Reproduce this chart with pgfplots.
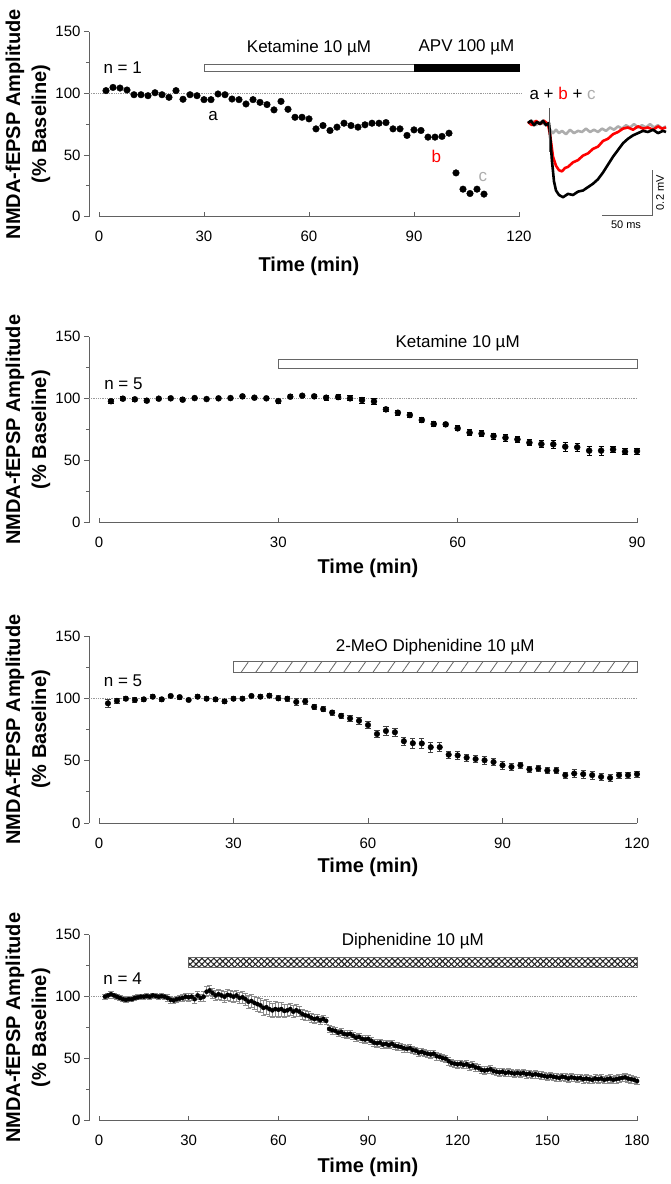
\documentclass[border=0pt]{standalone}
\usepackage{fontspec}
\setmainfont{Liberation Sans}
\usepackage{pgfplots}
\pgfplotsset{compat=1.18}
\usetikzlibrary{patterns.meta}

\newcommand\tks{\fontsize{15}{18}\selectfont}
\newcommand\lab{\fontsize{20}{26}\selectfont\bfseries}
\newcommand\ann{\fontsize{17}{20}\selectfont}
\newcommand\sml{\fontsize{11}{13}\selectfont}

\definecolor{axgray}{gray}{0.38}
\definecolor{trgray}{gray}{0.68}

\pgfplotsset{
  panel/.style={
    scale only axis, anchor=south west, clip=false,
    axis lines*=left,
    ymin=0, ymax=150, ytick={0,50,100,150}, minor y tick num=1,
    y axis line style={axgray, line width=0.9pt},
    x axis line style={draw=none},
    xtick align=inside, ytick align=outside,
    major tick length=5pt, minor tick length=3pt,
    tick style={axgray, line width=0.9pt},
    tick label style={font=\tks},
    xticklabel style={yshift=-11pt},
    /pgf/number format/assume math mode=true,
  },
  base/.style={black!40, densely dotted, line width=0.8pt},
  ebar/.style={only marks, mark=*, black,
    error bars/.cd, y dir=both, y explicit,
    error bar style={line width=0.7pt, #1},
    error mark options={rotate=90, mark size=2.6pt, line width=0.7pt, #1}},
}

\begin{document}
\begin{tikzpicture}
\useasboundingbox (0,0) rectangle (670pt,1184pt);

% ---------------- panel 1 : ketamine + APV (n = 1)
\begin{axis}[panel, at={(89pt,967.3pt)}, width=430pt, height=185pt,
    xmin=-2.857, xmax=120, xtick={0,30,60,90,120}]
\draw[axgray, line width=0.9pt] (axis cs:0,0) -- (axis cs:120,0);
\addplot[base] coordinates {(-2.857,100) (121,100)};
\draw[fill=white, draw=black!60, line width=1pt] (axis cs:30,117.5) rectangle (axis cs:90,123.5);
\draw[fill=black, draw=black, line width=1pt] (axis cs:90,117.5) rectangle (axis cs:120,123.5);
\node[font=\ann] at (axis cs:60,137) {Ketamine 10 µM};
\node[font=\ann] at (axis cs:105,137) {APV 100 µM};
\node[font=\ann, anchor=west] at (axis cs:0.3,121) {n = 1};
\addplot[only marks, mark=*, mark size=3.3pt, black] coordinates {
 (2,102.2) (4,104.8) (6,104.3) (8,102.7) (10,98.9) (12,98.9) (14,98.1) (16,100.5)
 (18,98.9) (20,96.8) (22,102.2) (24,95.2) (26,98.9) (28,98.1) (30,94.9) (32,94.9)
 (34,99.5) (36,98.9) (38,95.4) (40,94.9) (42,91.4) (44,94.9) (46,92.7) (48,90.9)
 (50,86.6) (52,93.5) (54,87.1) (56,80.6) (58,80.6) (60,79.3) (62,71.2) (64,73.9)
 (66,69.9) (68,72.6) (70,75.8) (72,73.9) (74,72.6) (76,74.5) (78,75.8) (80,75.8)
 (82,76.3) (84,71.2) (86,71.2) (88,65.9) (90,70.4) (92,69.9) (94,64.5) (96,64.5)
 (98,65.1) (100,67.7) (102,35.5) (104,22.3) (106,18.8) (108,22.3) (110,18.3)};
\node[font=\ann] at (axis cs:32.6,82) {a};
\node[font=\ann, text=red] at (axis cs:96.4,49) {b};
\node[font=\ann, text=trgray] at (axis cs:109.7,32.5) {c};
\end{axis}
\node[font=\lab, rotate=90, align=center, inner sep=0pt] at (28pt,1059.8pt)
  {NMDA-fEPSP Amplitude\\(\% Baseline)};
\node[font=\lab] at (309pt,917.3pt) {Time (min)};

% inset traces a + b + c
\begin{axis}[hide axis, scale only axis, anchor=south west, at={(528pt,959.75pt)},
    width=140pt, height=123.75pt, xmin=0, xmax=140, ymin=-0.45, ymax=0.1, clip=false]
\addplot[trgray, line width=2.6pt, line join=round] coordinates {
 (0,0) (4,0.01) (8,-0.01) (12,0.005) (16,-0.005) (20,0) (22,-0.03) (25,-0.045) (28,-0.03)
 (31,-0.045) (34,-0.035) (38,-0.05) (42,-0.03) (46,-0.045) (50,-0.035) (54,-0.04) (58,-0.025)
 (62,-0.04) (66,-0.03) (70,-0.04) (74,-0.025) (78,-0.035) (82,-0.02) (86,-0.03) (90,-0.015)
 (94,-0.025) (98,-0.01) (102,-0.02) (106,-0.005) (110,-0.02) (114,-0.01) (118,-0.02)
 (122,-0.005) (126,-0.02) (130,-0.01) (134,-0.025) (138,-0.015)};
\addplot[red, line width=2.6pt, line join=round] coordinates {
 (0,0.005) (4,-0.01) (8,0.01) (12,-0.005) (16,0.01) (20,-0.005) (22,-0.05) (25,-0.15)
 (28,-0.19) (31,-0.21) (34,-0.215) (37,-0.20) (40,-0.195) (45,-0.175) (50,-0.165)
 (55,-0.145) (60,-0.135) (65,-0.115) (70,-0.105) (75,-0.08) (80,-0.07) (85,-0.05)
 (90,-0.04) (95,-0.025) (100,-0.02) (105,-0.03) (110,-0.015) (115,-0.025) (120,-0.02)
 (125,-0.03) (130,-0.015) (134,-0.025) (138,-0.02)};
\addplot[black, line width=2.6pt, line join=round] coordinates {
 (0,0) (3,0.01) (6,-0.01) (9,0.005) (12,-0.005) (15,0.01) (18,-0.01) (21,0) (22,-0.05)
 (24,-0.17) (26,-0.26) (28,-0.30) (31,-0.32) (35,-0.33) (40,-0.315) (45,-0.32) (50,-0.305)
 (55,-0.30) (60,-0.285) (65,-0.27) (70,-0.25) (75,-0.22) (80,-0.185) (85,-0.15) (90,-0.12)
 (95,-0.09) (100,-0.07) (105,-0.055) (110,-0.045) (115,-0.035) (120,-0.04) (125,-0.03)
 (130,-0.045) (135,-0.035) (138,-0.04)};
\addplot[black!65, line width=1pt] coordinates {(21,0.067) (21,-0.13)};
\draw[axgray, line width=0.9pt] (axis cs:74,-0.409) -- (axis cs:124,-0.409) -- (axis cs:124,-0.209);
\node[font=\sml, anchor=north] at (axis cs:98,-0.42) {50 ms};
\node[font=\sml, rotate=90] at (axis cs:132,-0.31) {0.2 mV};
\node[font=\ann, anchor=west] at (axis cs:-2,0.133)
  {a + \textcolor{red}{b} + \textcolor{trgray}{c}};
\end{axis}

% ---------------- panel 2 : ketamine (n = 5)
\begin{axis}[panel, at={(89pt,661.3pt)}, width=548pt, height=186pt,
    xmin=-1.67, xmax=90, xtick={0,30,60,90}]
\draw[axgray, line width=0.9pt] (axis cs:0,0) -- (axis cs:90,0);
\addplot[base] coordinates {(-1.67,100) (90,100)};
\draw[fill=white, draw=black!60, line width=1pt] (axis cs:30,124.5) rectangle (axis cs:90,131.5);
\node[font=\ann] at (axis cs:60,144.6) {Ketamine 10 µM};
\node[font=\ann, anchor=west] at (axis cs:0.3,112) {n = 5};
\addplot[mark size=3pt, ebar={black}] table[x=x, y=y, y error=e, row sep=\\] {
 x y e\\ 2 98 1.5\\ 4 100 1.5\\ 6 99.5 1.5\\ 8 98.4 1.5\\ 10 100 1.2\\ 12 100.3 1.2\\
 14 99.2 1.5\\ 16 100.5 1.2\\ 18 99.7 1.2\\ 20 100.3 1.2\\ 22 100.5 1.2\\ 24 101.9 1.5\\
 26 100.8 1.2\\ 28 100.3 1.2\\ 30 98.1 1.5\\ 32 101.6 1.5\\ 34 102.4 1.5\\ 36 101.9 1.8\\
 38 100.8 2\\ 40 101.3 2\\ 42 100.3 2\\ 44 98.9 2.5\\ 46 97.8 2.5\\ 48 91.4 2\\
 50 88.7 2\\ 52 86.8 2\\ 54 82.8 2\\ 56 79.6 2\\ 58 79.3 2\\ 60 76.1 2\\
 62 72.6 2.5\\ 64 71.8 2.5\\ 66 69.9 2.5\\ 68 68.5 2.5\\ 70 67.2 2.5\\ 72 64.5 2.5\\
 74 63.4 3\\ 76 63.2 3\\ 78 61.3 3.5\\ 80 60.8 3.5\\ 82 58.1 3.5\\ 84 58.1 3.5\\
 86 59.1 2.5\\ 88 57.3 2.5\\ 90 57.8 2.5\\
};
\end{axis}
\node[font=\lab, rotate=90, align=center, inner sep=0pt] at (28pt,754.3pt)
  {NMDA-fEPSP Amplitude\\(\% Baseline)};
\node[font=\lab] at (368pt,615.3pt) {Time (min)};

% ---------------- panel 3 : 2-MeO diphenidine (n = 5)
\begin{axis}[panel, at={(89pt,361pt)}, width=548pt, height=187pt,
    xmin=-2.23, xmax=120, xtick={0,30,60,90,120}]
\draw[axgray, line width=0.9pt] (axis cs:0,0) -- (axis cs:120,0);
\addplot[base] coordinates {(-2.23,100) (120,100)};
\fill[white] (axis cs:30,120.8) rectangle (axis cs:120,129.3);
\fill[pattern={Lines[angle=55, distance=12pt, line width=0.8pt]}, pattern color=black!60]
  (axis cs:30,120.8) rectangle (axis cs:120,129.3);
\draw[draw=black!60, line width=1pt] (axis cs:30,120.8) rectangle (axis cs:120,129.3);
\node[font=\ann] at (axis cs:75,140.7) {2-MeO Diphenidine 10 µM};
\node[font=\ann, anchor=west] at (axis cs:0.3,114) {n = 5};
\addplot[mark size=2.8pt, ebar={black!75}] table[x=x, y=y, y error=e, row sep=\\] {
 x y e\\ 2 96 3\\ 4 98 2\\ 6 99.7 1.5\\ 8 98.7 2\\ 10 99.2 1.5\\ 12 101.3 1.5\\
 14 99.2 1.5\\ 16 101.9 1.5\\ 18 101 1.5\\ 20 98.7 1.5\\ 22 101.3 1.5\\ 24 99.7 1.5\\
 26 99.2 1.5\\ 28 97.6 1.5\\ 30 99.7 1.5\\ 32 99.7 1.5\\ 34 101.9 1.5\\ 36 101.3 1.5\\
 38 102.1 1.5\\ 40 100 2\\ 42 99.7 2\\ 44 97.1 2.5\\ 46 97.6 2.5\\ 48 93.1 2\\
 50 91.3 2\\ 52 88.6 2\\ 54 86 2\\ 56 83.9 2.5\\ 58 82 2.5\\ 60 78.6 3\\
 62 71.4 3\\ 64 73.8 3.5\\ 66 72.8 3.5\\ 68 65.6 3.5\\ 70 64 4\\ 72 63.8 4\\
 74 60.8 4\\ 76 60.8 3.5\\ 78 54.8 3\\ 80 54.2 3\\ 82 52.4 3\\ 84 51.3 3\\
 86 50.3 3\\ 88 48.9 3\\ 90 46.3 3\\ 92 45 2.5\\ 94 46.3 2.5\\ 96 43.1 2.5\\
 98 43.7 2.5\\ 100 42.1 2.5\\ 102 42.1 2.5\\ 104 38.4 2.5\\ 106 39.7 3\\ 108 39.2 3\\
 110 38.4 3\\ 112 37 2.5\\ 114 36.2 2.5\\ 116 38.4 2.5\\ 118 38.4 2.5\\ 120 39.2 2.5\\
};
\end{axis}
\node[font=\lab, rotate=90, align=center, inner sep=0pt] at (28pt,454.5pt)
  {NMDA-fEPSP Amplitude\\(\% Baseline)};
\node[font=\lab] at (368pt,317pt) {Time (min)};

% ---------------- panel 4 : diphenidine (n = 4)
\begin{axis}[panel, at={(89pt,63.3pt)}, width=548pt, height=186pt,
    xmin=-3.35, xmax=180, xtick={0,30,60,90,120,150,180}]
\draw[axgray, line width=0.9pt] (axis cs:0,0) -- (axis cs:180,0);
\addplot[base] coordinates {(-3.35,100) (180,100)};
\fill[white] (axis cs:30,123.9) rectangle (axis cs:180,132);
\fill[pattern={Lines[angle=45, distance=4.2pt, line width=1.1pt]}, pattern color=black!85]
  (axis cs:30,123.9) rectangle (axis cs:180,132);
\fill[pattern={Lines[angle=-45, distance=4.2pt, line width=1.1pt]}, pattern color=black!85]
  (axis cs:30,123.9) rectangle (axis cs:180,132);
\draw[draw=black!60, line width=1pt] (axis cs:30,123.9) rectangle (axis cs:180,132);
\node[font=\ann] at (axis cs:105,144.6) {Diphenidine 10 µM};
\node[font=\ann, anchor=west] at (axis cs:0.3,114.2) {n = 4};
\addplot[mark size=2.1pt, ebar={black!45}] table[x=x, y=y, y error=e, row sep=\\] {
 x y e\\
 2 100 2\\ 3 101 2\\ 4 102 2\\ 5 101 2\\ 6 100 2\\ 7 99 2\\ 8 98 2\\ 9 97.5 2\\ 10 98 2\\
 11 98 2\\ 12 99 2\\ 13 99.5 2\\ 14 100 2\\ 15 100 2\\ 16 100.5 2\\ 17 100 2\\ 18 101 2\\
 19 100.5 2\\ 20 100 2\\ 21 100.5 2\\ 22 100 2\\ 23 99 2.5\\ 24 97.5 2.5\\ 25 97 2.5\\
 26 98 2.5\\ 27 98.5 2.5\\ 28 99 2.5\\ 29 100 3\\ 30 99.5 3\\ 31 100 3\\ 32 98 3\\
 33 101 3\\ 34 99 3\\ 35 100 4\\ 36 104 4\\ 37 105 4\\ 38 103 4\\ 39 101 4\\ 40 102 4\\
 41 101 4\\ 42 100 4.5\\ 43 101.5 4.5\\ 44 101 4.5\\ 45 100 4.5\\ 46 101 4.5\\ 47 99 4.5\\
 48 99.5 4.5\\ 49 98 5\\ 50 96 5\\ 51 96.5 5\\ 52 95 5\\ 53 94 5.5\\ 54 93 5.5\\ 55 91 6\\
 56 91.5 6\\ 57 90 6\\ 58 89 6\\ 59 90 6\\ 60 89.5 6\\ 61 90 5.5\\ 62 88.5 5.5\\ 63 89 5\\
 64 90 5\\ 65 88 5\\ 66 89 5\\ 67 88 4\\ 68 86 4\\ 69 85 4\\ 70 84.5 3.5\\ 71 83 3.5\\
 72 82 3.5\\ 73 82.5 3\\ 74 81 3\\ 75 82 3\\ 76 80.5 3\\ 77 74 3\\ 78 73 3\\ 79 72.5 3\\
 80 71 3\\ 81 71.5 3\\ 82 70 3\\ 83 69.5 3\\ 84 70 3\\ 85 68.5 3\\ 86 67 3\\ 87 67.5 3\\
 88 66 3\\ 89 65.5 3\\ 90 66 3\\ 91 64.5 3\\ 92 63 3\\ 93 62.5 3\\ 94 63 3\\ 95 61.5 3\\
 96 62 3\\ 97 61 3\\ 98 62 3\\ 99 60.5 3\\ 100 60 3\\ 101 59.5 3\\ 102 58.5 3\\ 103 58 3\\
 104 58.5 3\\ 105 57 3\\ 106 56.5 3\\ 107 55 3\\ 108 55.5 3\\ 109 54.5 3\\ 110 54 3\\
 111 53.5 3\\ 112 54 3\\ 113 52 3\\ 114 51.5 3\\ 115 50.5 3\\ 116 50 3\\ 117 48 3\\
 118 46.5 3\\ 119 46 3\\ 120 45.5 3\\ 121 46 3\\ 122 45 3\\ 123 45.5 3\\ 124 44 3\\
 125 44.5 3\\ 126 43 3\\ 127 42.5 3\\ 128 41 3\\ 129 40.5 3\\ 130 41 3\\ 131 41.5 3\\
 132 40 3\\ 133 39.5 3\\ 134 39 3\\ 135 39.5 3\\ 136 38.5 3\\ 137 39 3\\ 138 38.5 3\\
 139 38 3\\ 140 38.5 3\\ 141 38 3\\ 142 38.5 3\\ 143 37.5 3\\ 144 38 3\\ 145 37 3\\
 146 37.5 3\\ 147 37 3\\ 148 36.5 3\\ 149 36 3\\ 150 35.5 3\\ 151 36 3\\ 152 35.5 3\\
 153 35 3\\ 154 34.5 3\\ 155 35.5 3\\ 156 35 3\\ 157 34 3\\ 158 35 3\\ 159 34.5 3\\
 160 34 3\\ 161 34.5 3\\ 162 33.5 3\\ 163 34 3\\ 164 33.5 3\\ 165 33 3\\ 166 34 3\\
 167 33.5 3\\ 168 34 3\\ 169 33 3\\ 170 33.5 3\\ 171 34 3\\ 172 33 3\\ 173 33.5 3\\
 174 34 3\\ 175 34.5 3\\ 176 35 3\\ 177 34 3\\ 178 33.5 3\\ 179 33 3\\ 180 32 3\\
};
\end{axis}
\node[font=\lab, rotate=90, align=center, inner sep=0pt] at (28pt,156.3pt)
  {NMDA-fEPSP Amplitude\\(\% Baseline)};
\node[font=\lab] at (368pt,16.3pt) {Time (min)};
\end{tikzpicture}
\end{document}
